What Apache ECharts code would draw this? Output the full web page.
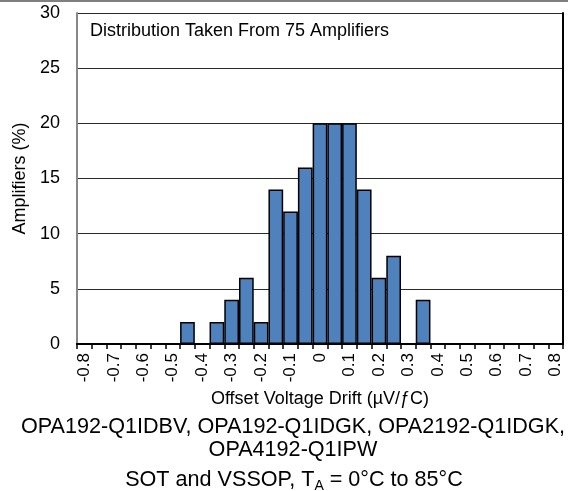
<!DOCTYPE html>
<html>
<head>
<meta charset="utf-8">
<script src="https://cdn.jsdelivr.net/npm/echarts@6/dist/echarts.min.js"></script>
<style>
  html, body { margin: 0; padding: 0; background: #fff; }
  #chart { width: 568px; height: 491px; }
</style>
</head>
<body>
<div id="chart"></div>
<script>
// Histogram bins of offset voltage drift (µV/ƒC), bin width 0.05
const categories = [
  '-0.8', '-0.75', '-0.7', '-0.65', '-0.6', '-0.55', '-0.5', '-0.45',
  '-0.4', '-0.35', '-0.3', '-0.25', '-0.2', '-0.15', '-0.1', '-0.05',
  '0', '0.05', '0.1', '0.15', '0.2', '0.25', '0.3', '0.35',
  '0.4', '0.45', '0.5', '0.55', '0.6', '0.65', '0.7', '0.75', '0.8'
];
// Share of amplifiers in each bin (%)
const amplifiersPct = [
  0, 0, 0, 0, 0, 0, 0, 2,
  0, 2, 4, 6, 2, 14, 12, 16,
  20, 20, 20, 14, 6, 8, 0, 4,
  0, 0, 0, 0, 0, 0, 0, 0, 0
];
const yTicks = { min: 0, max: 30, step: 5 };

const FONT = "'Liberation Sans', Arial, sans-serif";
const chart = echarts.init(document.getElementById('chart'), null, { renderer: 'canvas' });

chart.setOption({
  animation: false,
  backgroundColor: '#ffffff',
  grid: { left: 77, right: 5, top: 13, bottom: 147, containLabel: false },
  xAxis: [
    {
      type: 'category',
      data: categories,
      boundaryGap: true,
      name: 'Offset Voltage Drift (µV/ƒC)',
      nameLocation: 'middle',
      nameGap: 45,
      nameTextStyle: { fontFamily: FONT, fontSize: 18, color: '#000' },
      axisLine: { show: true, lineStyle: { color: '#000', width: 2 } },
      axisTick: { show: true, interval: 0, length: 5, lineStyle: { color: '#000', width: 1.5 } },
      axisLabel: {
        interval: 1,
        rotate: 90,
        margin: 9,
        fontFamily: FONT,
        fontSize: 17,
        color: '#000'
      },
      splitLine: { show: false }
    },
    {
      type: 'category',
      data: categories,
      position: 'top',
      axisLine: { show: true, lineStyle: { color: '#000', width: 2 } },
      axisTick: { show: false },
      axisLabel: { show: false },
      splitLine: { show: false }
    }
  ],
  yAxis: [
    {
      type: 'value',
      min: yTicks.min,
      max: yTicks.max,
      interval: yTicks.step,
      name: 'Amplifiers (%)',
      nameLocation: 'middle',
      nameGap: 46,
      nameTextStyle: { fontFamily: FONT, fontSize: 18, color: '#000' },
      axisLine: { show: true, lineStyle: { color: '#888', width: 2 } },
      axisTick: { show: false },
      axisLabel: { margin: 17, fontFamily: FONT, fontSize: 18, color: '#000' },
      splitLine: { show: true, lineStyle: { color: '#2a2a2a', width: 1 } }
    },
    {
      type: 'value',
      min: yTicks.min,
      max: yTicks.max,
      position: 'right',
      axisLine: { show: true, lineStyle: { color: '#000', width: 2 } },
      axisTick: { show: false },
      axisLabel: { show: false },
      splitLine: { show: false }
    }
  ],
  series: [
    {
      type: 'bar',
      data: amplifiersPct,
      xAxisIndex: 0,
      yAxisIndex: 0,
      barCategoryGap: '0%',
      itemStyle: { color: '#4f81bd', borderColor: '#000', borderWidth: 1.5 },
      z: 3
    }
  ],
  graphic: [
    {
      type: 'line',
      shape: { x1: 0, y1: 1, x2: 568, y2: 1 },
      style: { stroke: '#000', lineWidth: 1 },
      silent: true
    },
    {
      type: 'text',
      left: 90,
      top: 22,
      style: {
        text: 'Distribution Taken From 75 Amplifiers',
        font: '18px ' + FONT,
        fill: '#000'
      },
      z: 10
    },
    {
      type: 'text',
      x: 293,
      y: 427,
      style: {
        text: 'OPA192-Q1IDBV, OPA192-Q1IDGK, OPA2192-Q1IDGK,',
        font: '21.6px ' + FONT,
        fill: '#000',
        align: 'center',
        verticalAlign: 'middle'
      }
    },
    {
      type: 'text',
      x: 293,
      y: 450,
      style: {
        text: 'OPA4192-Q1IPW',
        font: '21.6px ' + FONT,
        fill: '#000',
        align: 'center',
        verticalAlign: 'middle'
      }
    },
    {
      type: 'text',
      x: 294,
      y: 480,
      style: {
        text: '{n|SOT and VSSOP, T}{s|A}{n| = 0°C to 85°C}',
        align: 'center',
        verticalAlign: 'middle',
        fill: '#000',
        rich: {
          n: { fontFamily: FONT, fontSize: 21.6, fill: '#000', verticalAlign: 'middle' },
          s: { fontFamily: FONT, fontSize: 14, fill: '#000', padding: [12, 0, 0, 0] }
        }
      }
    }
  ]
});
</script>
</body>
</html>
